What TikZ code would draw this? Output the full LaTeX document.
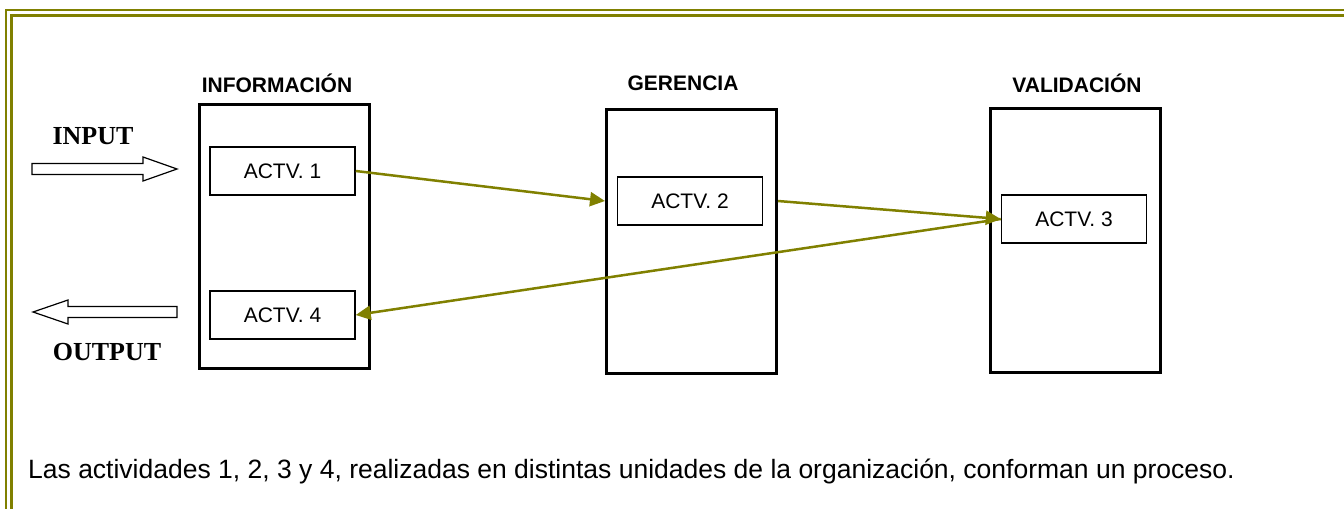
\documentclass[tikz,border=0pt]{standalone}
\usepackage{fontspec}
\setmainfont{Liberation Sans}
\newfontfamily\timesf{Liberation Serif}
\usetikzlibrary{arrows.meta}
\definecolor{olivec}{RGB}{128,128,0}
\tikzset{
  lane/.style={draw=black, line width=3pt, minimum width=170pt, minimum height=264pt, inner sep=0pt},
  actv/.style={draw=black, line width=1.5pt, minimum width=145pt, minimum height=48pt, inner sep=0pt, font=\fontsize{21}{25}\selectfont},
  head/.style={font=\bfseries\fontsize{21}{25}\selectfont},
  io/.style={font=\timesf\bfseries\fontsize{26}{30}\selectfont},
  flow/.style={draw=olivec, line width=2.5pt, -{Triangle[length=15pt,width=14pt]}},
  hollow/.style={draw=black, line width=1.2pt, fill=white},
  frame/.style={draw=olivec, line width=2.5pt}
}
\begin{document}
\begin{tikzpicture}[x=1pt,y=-1pt]
\useasboundingbox (0,0) rectangle (1344,509);
% frame
\draw[frame] (1344,10) -- (6,10) -- (6,509);
\draw[frame] (1344,15.5) -- (11.5,15.5) -- (11.5,509);
% lanes
\node[lane] (l1) at (284,236) {};
\node[lane] (l2) at (691.5,241) {};
\node[lane] (l3) at (1075,240.5) {};
\node[head] (h1) at (277,83) {INFORMACIÓN};
\node[head] (h2) at (683,83) {GERENCIA};
\node[head] (h3) at (1077,83) {VALIDACIÓN};
% activities
\node[actv] (a1) at (282.5,171) {ACTV. 1};
\node[actv] (a4) at (282.5,315) {ACTV. 4};
\node[actv] (a2) at (690,201) {ACTV. 2};
\node[actv] (a3) at (1074,219) {ACTV. 3};
% flows
\draw[flow] (a1.east) -- (l2.west |- a2.west);
\draw[flow] (l2.east |- a2.east) -- (a3.west);
\draw[flow] (a3.west) -- (a4.east);
% input / output
\node[io] (in) at (93,136) {INPUT};
\node[io] (out) at (107,352) {OUTPUT};
\draw[hollow] (32,163.5) -- (143,163.5) -- (143,157) -- (177,169) -- (143,181) -- (143,174.5) -- (32,174.5) -- cycle;
\draw[hollow] (177,306.5) -- (68,306.5) -- (68,300) -- (33,312) -- (68,324) -- (68,317.5) -- (177,317.5) -- cycle;
% caption
\node[anchor=west, inner sep=0pt, font=\fontsize{26.5}{30}\selectfont] (cap) at (28,471) {Las actividades 1, 2, 3 y 4, realizadas en distintas unidades de la organización, conforman un proceso.};
\end{tikzpicture}
\end{document}
